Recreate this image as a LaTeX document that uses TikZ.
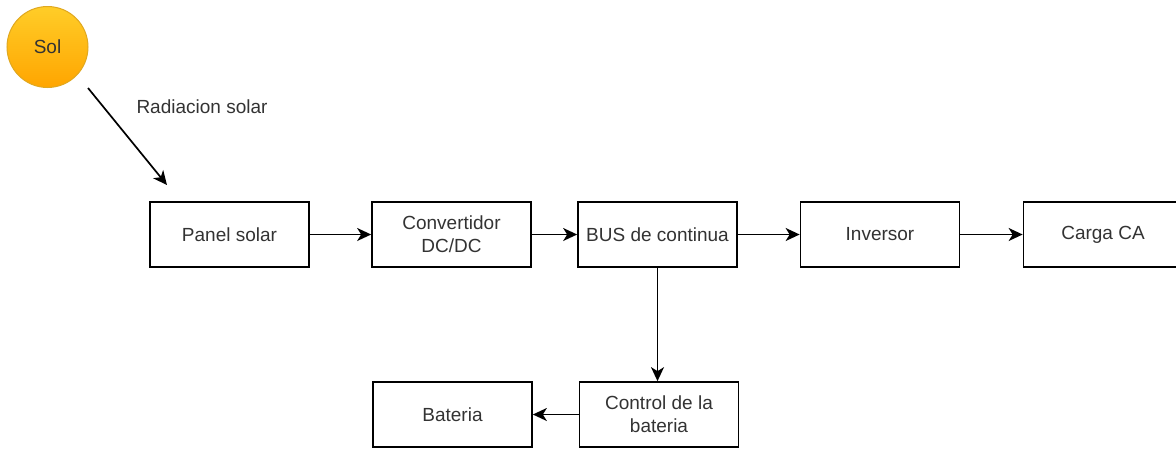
\documentclass[tikz,border=0pt]{standalone}
\usepackage{fontspec}
\setmainfont{Liberation Sans}
\usetikzlibrary{arrows.meta}
\definecolor{txt}{HTML}{333333}
\definecolor{suntop}{HTML}{FFCD28}
\definecolor{sunbot}{HTML}{FFA500}
\definecolor{sunline}{HTML}{E0A820}
\begin{document}
\begin{tikzpicture}[x=1pt,y=-1pt,
  box/.style={draw=black, line width=1.7pt, fill=white, inner sep=0pt,
    minimum width=159pt, minimum height=65pt, align=center,
    font=\fontsize{19}{23}\selectfont, text=txt},
  conn/.style={line width=1.7pt, -{Stealth[length=14pt,width=13pt,inset=4pt]}},
  lbl/.style={font=\fontsize{19}{23}\selectfont, text=txt, inner sep=0pt}]
\useasboundingbox (0,0) rectangle (1176,448);
\node[circle, draw=sunline, line width=1pt, top color=suntop, bottom color=sunbot,
  minimum size=81pt, inner sep=0pt, font=\fontsize{19}{23}\selectfont, text=txt] (sol) at (47.5,47) {Sol};
\node[box] (panel) at (229.5,234.5) {Panel solar};
\node[box] (conv) at (451.5,234.5) {Convertidor\\DC/DC};
\node[box] (bus) at (657.5,234.5) {BUS de continua};
\node[box] (inv) at (880,234.5) {Inversor};
\node[box] (carga) at (1103,234.5) {Carga CA};
\node[box] (ctrl) at (659,414.5) {Control de la\\bateria};
\node[box] (bat) at (452.5,414.5) {Bateria};
\coordinate (rs) at (88,88);
\coordinate (re) at (167,185);
\node[lbl] (rlab) at (202,107) {Radiacion solar};
\draw[conn] (rs) -- (re);
\draw[conn] (panel) -- (conv);
\draw[conn] (conv) -- (bus);
\draw[conn] (bus) -- (inv);
\draw[conn] (inv) -- (carga);
\draw[conn] (bus.south) -- (bus.south |- ctrl.north);
\draw[conn] (ctrl) -- (bat);
\end{tikzpicture}
\end{document}
